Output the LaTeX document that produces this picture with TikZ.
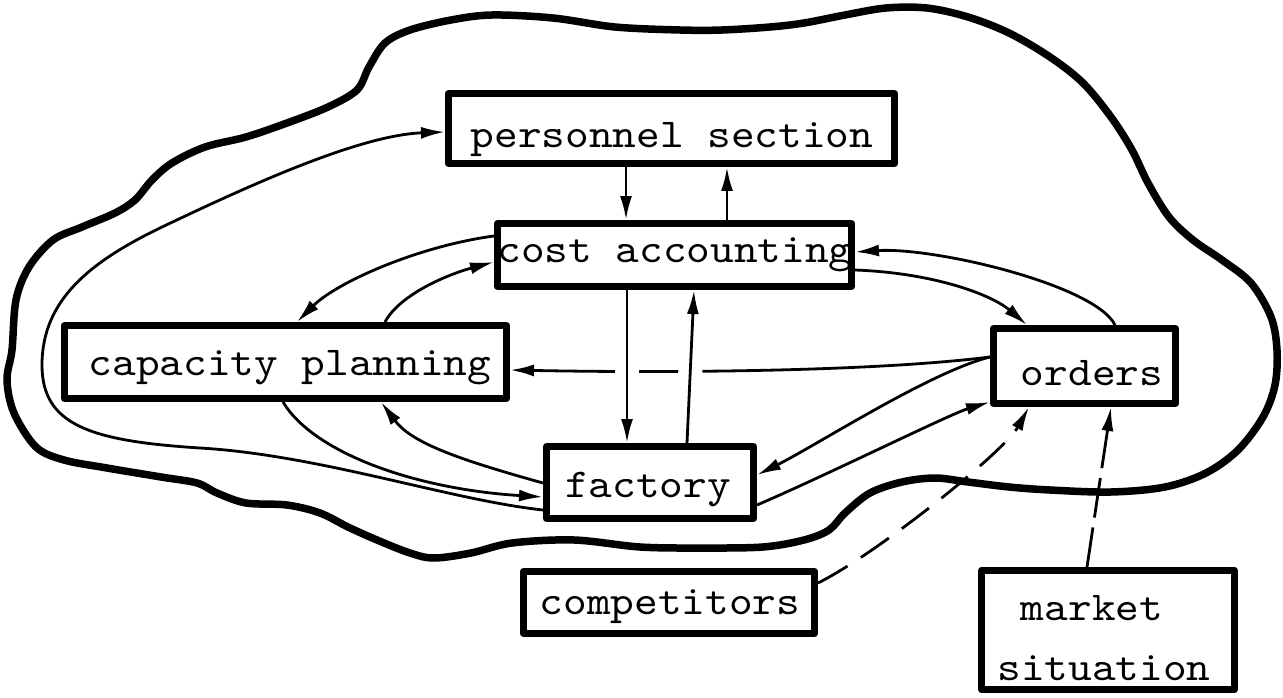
\documentclass[tikz,border=0pt]{standalone}
\usepackage{fontspec}
\newfontfamily\tw{lmmono10-regular.otf}[FakeStretch=1.1]
\usetikzlibrary{arrows.meta,calc}
\begin{document}
\begin{tikzpicture}[x=1pt,y=-1pt,
  box/.style={draw, line width=7pt, rectangle, inner sep=0pt, line join=round},
  lbl/.style={inner sep=0pt, anchor=base, font=\tw\fontsize{41}{48}\selectfont},
  conn/.style={line width=2.8pt, -{Latex[length=24pt,width=12pt]}},
  dconnA/.style={conn, dash pattern=on 34pt off 16pt},
  dconnB/.style={conn, dash pattern=on 40pt off 10pt},
  cloudline/.style={line width=7.5pt, line join=round}
]
\useasboundingbox (0,0) rectangle (1283,698);

% cloud outline
\draw[cloudline] plot[smooth cycle, tension=0.55] coordinates {
(12,350) (16,300) (29,267) (53,240) (82,227) (115,213) (135,200) (152,180)
(172,163) (205,147) (246,137) (287,123) (328,107) (357,90) (369,67) (385,43)
(410,30) (451,20) (492,15) (553,18) (615,27) (680,30) (722,30) (770,27)
(804,23) (845,15) (886,8) (927,8) (968,17) (1009,33) (1050,57) (1083,83)
(1111,117) (1132,150) (1148,183) (1169,217) (1193,240) (1222,260) (1251,283)
(1271,317) (1277,350) (1275,385) (1263,417) (1238,450) (1206,473) (1165,487)
(1111,492) (1050,490) (1009,487) (968,482) (935,478) (902,482) (870,493)
(845,513) (829,530) (804,540) (763,547) (701,548) (640,547) (574,540)
(512,543) (471,553) (434,558) (410,553) (377,540) (348,527) (320,513)
(287,505) (246,503) (217,493) (197,483) (161,477) (107,468) (64,460)
(36,447) (14,413) (7,380)};

% boxes
\node[box, minimum width=446pt, minimum height=70pt] (pers) at (671.5,128.5) {};
\node[box, minimum width=354pt, minimum height=63pt] (cost) at (674.5,255) {};
\node[box, minimum width=442pt, minimum height=73pt] (cap) at (285.5,362) {};
\node[box, minimum width=182pt, minimum height=75pt] (ord) at (1084.5,366) {};
\node[box, minimum width=207pt, minimum height=72pt] (fac) at (650,482.5) {};
\node[box, minimum width=291pt, minimum height=62pt] (comp) at (669,602.5) {};
\node[box, minimum width=253pt, minimum height=119pt] (mkt) at (1108,630) {};

% labels
\node[lbl] (tpers) at (672,148) {personnel section};
\node[lbl] (tcost) at (675,262) {cost accounting};
\node[lbl] (tcap) at (290,375) {capacity planning};
\node[lbl] (tord) at (1092,385) {orders};
\node[lbl] (tfac) at (648,497) {factory};
\node[lbl] (tcomp) at (670,614) {competitors};
\node[lbl] (tmkt) at (1092,620) {market};
\node[lbl] (tsit) at (1104,680) {situation};

% personnel <-> cost accounting
\draw[conn] ($(pers.south west)+(181,0)$) -- ($(cost.north west)+(132,0)$);
\draw[conn] ($(cost.north west)+(233,0)$) -- ($(pers.south west)+(282,0)$);

% orders -> capacity planning (drawn before the crossing verticals)
\draw[conn] ($(ord.north west)+(0,32)$) .. controls +(-120,15) and +(150,3) .. ($(cap.north east)+(0,48)$);

% cost accounting <-> factory (with gaps in the crossing line)
\draw[conn, preaction={draw=white, line width=24pt, -, shorten <=45pt, shorten >=45pt}]
  ($(cost.south west)+(133,0)$) -- ($(fac.north west)+(84,0)$);
\draw[conn, preaction={draw=white, line width=24pt, -, shorten <=45pt, shorten >=45pt}]
  ($(fac.north west)+(144,0)$) -- ($(cost.south west)+(200,0)$);

% cost accounting <-> capacity planning
\draw[conn] ($(cost.north west)+(0,16)$) .. controls +(-75,10) and +(40,-40) .. ($(cap.north west)+(236,0)$);
\draw[conn] ($(cap.north west)+(324,0)$) .. controls +(15,-28) and +(-45,12) .. ($(cost.north west)+(0,42)$);

% cost accounting <-> orders
\draw[conn] ($(ord.north west)+(125,0)$) .. controls +(-20,-40) and +(80,-5) .. ($(cost.north east)+(0,32)$);
\draw[conn] ($(cost.north east)+(0,50)$) .. controls +(80,3) and +(-35,-30) .. ($(ord.north west)+(37,0)$);

% orders <-> factory
\draw[conn] ($(ord.north west)+(0,32)$) .. controls +(-60,15) and +(60,-30) .. ($(fac.north east)+(0,32)$);
\draw[conn] ($(fac.north east)+(0,62)$) .. controls +(70,-30) and +(-40,12) .. ($(ord.south west)+(0,-5)$);

% competitors, market situation -> orders
\draw[dconnA] ($(comp.north east)+(0,15)$) .. controls +(60,-30) and +(-25,45) .. ($(ord.south west)+(39,0)$);
\draw[dconnB] ($(mkt.north west)+(109,0)$) -- ($(ord.south west)+(121,0)$);

% factory <-> capacity planning
\draw[conn] ($(fac.north west)+(0,40)$) .. controls +(-90,-25) and +(30,40) .. ($(cap.south west)+(320,0)$);
\draw[conn] ($(cap.south west)+(222,0)$) .. controls +(30,50) and +(-130,-8) .. ($(fac.north west)+(0,54)$);

% factory -> personnel section (long loop)
\draw[conn] ($(fac.north west)+(0,67)$) .. controls (450,500) and (320,455) .. (200,448)
  .. controls (90,441) and (42,425) .. (42,365)
  .. controls (42,300) and (90,262) .. (160,228)
  .. controls (250,185) and (360,135) .. ($(pers.north west)+(0,42)$);
\end{tikzpicture}
\end{document}
